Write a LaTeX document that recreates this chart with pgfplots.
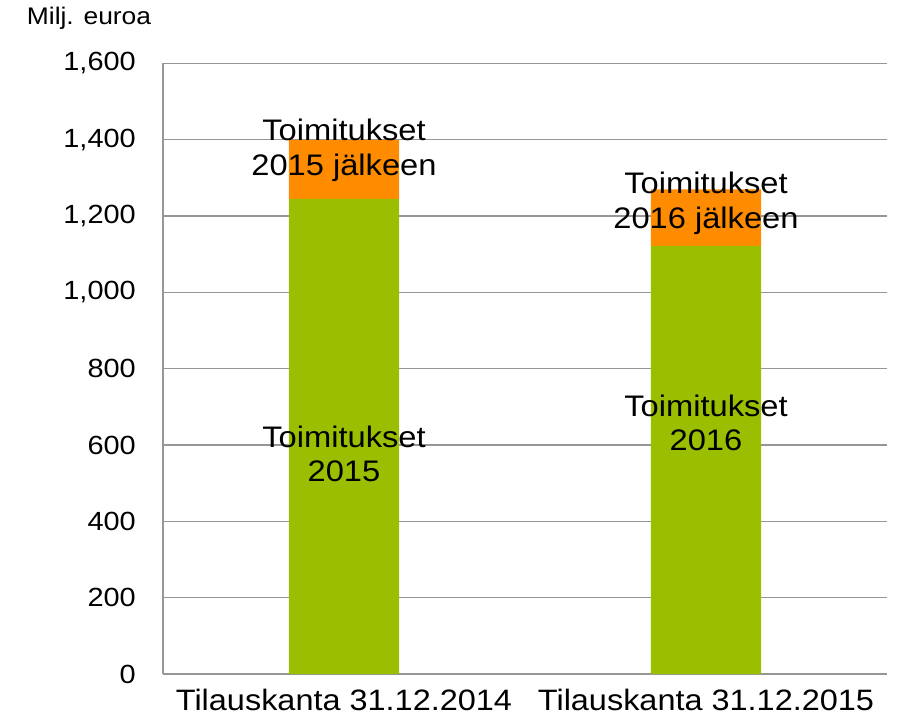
\documentclass[border=0pt]{standalone}
\usepackage{pgfplots}
\pgfplotsset{compat=1.18}
\usepackage{fontspec}
\setmainfont{Liberation Sans}[FakeStretch=1.1]
\definecolor{cgreen}{RGB}{153,191,0}
\definecolor{corange}{RGB}{255,140,0}
\definecolor{cgrid}{RGB}{150,150,150}
\tikzset{blab/.style={font=\fontsize{29.7}{34}\selectfont, anchor=base, inner sep=0pt}}
\begin{document}
\begin{tikzpicture}
\begin{axis}[
  at={(0pt,0pt)}, anchor=south west,
  scale only axis,
  width=724pt, height=610.5pt,
  xmin=-0.5, xmax=1.5,
  ymin=0, ymax=1600,
  ybar stacked,
  bar width=0.304,
  xtick={0,1},
  xticklabels={Tilauskanta 31.12.2014, Tilauskanta 31.12.2015},
  ytick={0,200,...,1600},
  major tick length=0pt,
  axis x line*=bottom,
  axis y line*=left,
  axis line style={cgrid, line width=1.3pt},
  ymajorgrids,
  grid style={cgrid, line width=1.3pt},
  /pgf/number format/assume math mode=true,
  /pgf/number format/1000 sep={,},
  yticklabel style={font=\fontsize{26.3}{30}\selectfont, anchor=east, inner sep=0pt, xshift=-27pt},
  xticklabel style={font=\fontsize{29.5}{34}\selectfont, anchor=base, inner sep=0pt, yshift=-36.7pt},
  clip=false,
]
\addplot[fill=cgreen, draw=none] coordinates {(0,1245) (1,1122)};
\addplot[fill=corange, draw=none] coordinates {(0,155) (1,148)};
\coordinate (a1) at (axis cs:0,1397.5);
\coordinate (a2) at (axis cs:0,1307.6);
\coordinate (b1) at (axis cs:1,1259.8);
\coordinate (b2) at (axis cs:1,1168);
\coordinate (c1) at (axis cs:0,593);
\coordinate (c2) at (axis cs:0,505.8);
\coordinate (d1) at (axis cs:1,674.3);
\coordinate (d2) at (axis cs:1,587);
\end{axis}
\node[blab] at (a1) {Toimitukset};
\node[blab] at (a2) {2015 jälkeen};
\node[blab] at (b1) {Toimitukset};
\node[blab] at (b2) {2016 jälkeen};
\node[blab] at (c1) {Toimitukset};
\node[blab] at (c2) {2015};
\node[blab] at (d1) {Toimitukset};
\node[blab] at (d2) {2016};
\node[anchor=base west, inner sep=0pt, font=\fontsize{24}{28}\selectfont] at (-136.3pt,649pt) {Milj. euroa};
\pgfresetboundingbox
\path (-163pt,-42pt) rectangle (739pt,674pt);
\end{tikzpicture}
\end{document}
